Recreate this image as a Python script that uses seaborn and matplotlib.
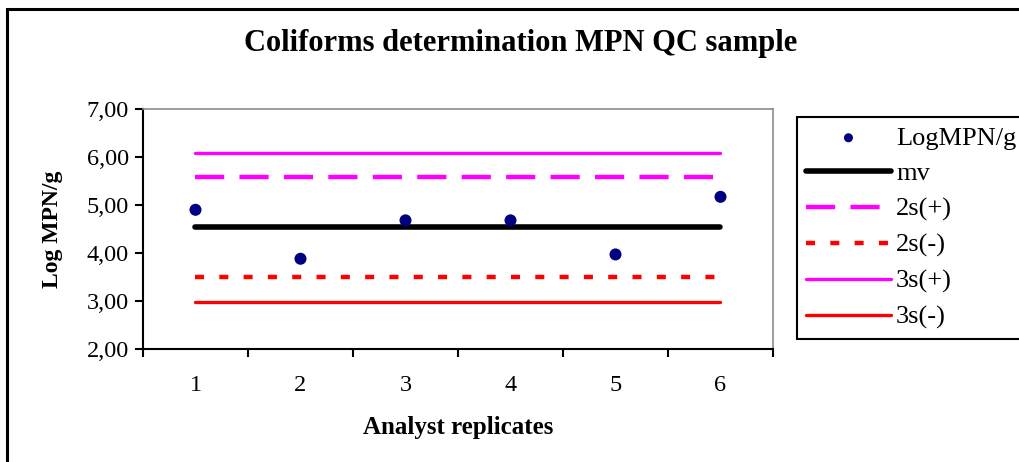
import numpy as np
import pandas as pd
import matplotlib
matplotlib.use("Agg")
import matplotlib.pyplot as plt
from matplotlib.patches import Rectangle
from matplotlib.ticker import FixedLocator, NullFormatter
import seaborn as sns

# Replicate results (log MPN/g) and control limits
replicates = [1, 2, 3, 4, 5, 6]
log_mpn = [4.90, 3.88, 4.68, 4.68, 3.97, 5.17]
mean_value = 4.54
limit_2s_plus = 5.58
limit_2s_minus = 3.50
limit_3s_plus = 6.09
limit_3s_minus = 2.97
y_ticks = [2, 3, 4, 5, 6, 7]
y_tick_labels = ["2,00", "3,00", "4,00", "5,00", "6,00", "7,00"]

sns.set_style("ticks")
plt.rcParams["font.family"] = ["Liberation Serif", "DejaVu Serif"]
plt.rcParams["lines.scale_dashes"] = False
for key in ["text.color", "axes.labelcolor", "xtick.color", "ytick.color"]:
    plt.rcParams[key] = "black"

W, H = 1020, 462
fig = plt.figure(figsize=(W / 100, H / 100), dpi=100)

def px_box(left, top, right, bottom):
    return [left / W, 1 - bottom / H, (right - left) / W, (bottom - top) / H]

ax = fig.add_axes(px_box(143, 109, 773, 349))

points = pd.DataFrame({"replicate": replicates, "value": log_mpn})

limits = [
    ("mv", mean_value, dict(color="black", linewidth=4.0, solid_capstyle="round")),
    ("2s(+)", limit_2s_plus, dict(color="#FF00FF", linewidth=3.2, linestyle=(0, (21, 11)), dash_capstyle="butt")),
    ("2s(-)", limit_2s_minus, dict(color="#FF0000", linewidth=3.2, linestyle=(0, (6.5, 11)), dash_capstyle="butt")),
    ("3s(+)", limit_3s_plus, dict(color="#FF00FF", linewidth=2.4, solid_capstyle="round")),
    ("3s(-)", limit_3s_minus, dict(color="#FF0000", linewidth=2.4, solid_capstyle="round")),
]

sns.scatterplot(data=points, x="replicate", y="value", ax=ax, color="#000080",
                s=75, edgecolor="none", label="LogMPN/g", zorder=5)

for name, level, style in limits:
    line_df = pd.DataFrame({"replicate": replicates, "value": np.full(len(replicates), level)})
    sns.lineplot(data=line_df, x="replicate", y="value", ax=ax, label=name, **style)

ax.set_xlim(0.5, 6.5)
ax.set_ylim(2, 7)

# Category boundaries carry the tick marks, centers carry the labels
ax.xaxis.set_major_locator(FixedLocator(np.arange(0.5, 7, 1.0)))
ax.xaxis.set_major_formatter(NullFormatter())
ax.xaxis.set_minor_locator(FixedLocator(replicates))
ax.set_xticklabels([str(r) for r in replicates], minor=True)
ax.tick_params(axis="x", which="major", length=6, width=1.5, direction="out", color="black")
ax.tick_params(axis="x", which="minor", length=0, pad=19, labelsize=17.5)

ax.set_yticks(y_ticks)
ax.set_yticklabels(y_tick_labels)
ax.tick_params(axis="y", length=6, width=1.5, direction="out", color="black", labelsize=17.5, pad=4)

for side in ["left", "bottom"]:
    ax.spines[side].set_color("black")
    ax.spines[side].set_linewidth(1.5)
for side in ["top", "right"]:
    ax.spines[side].set_visible(True)
    ax.spines[side].set_color("#8c8c8c")
    ax.spines[side].set_linewidth(1.2)

ax.set_xlabel("Analyst replicates", fontsize=18, fontweight="bold", labelpad=14)
ax.set_ylabel("Log MPN/g", fontsize=17, fontweight="bold", labelpad=17)

fig.text(521 / W, 1 - 44 / H, "Coliforms determination MPN QC sample",
         ha="center", va="center", fontsize=22, fontweight="bold")

leg = ax.legend(loc="upper left", bbox_to_anchor=(797 / W, 1 - 117 / H),
                bbox_transform=fig.transFigure, fontsize=19, frameon=True,
                fancybox=False, borderaxespad=0, handlelength=3.2,
                handletextpad=0.2, labelspacing=0.46, borderpad=0.35,
                markerscale=0.75)
leg.get_frame().set_edgecolor("black")
leg.get_frame().set_linewidth(1.5)
leg.get_frame().set_facecolor("white")
leg.get_frame().set_alpha(1)

# Outer chart border, running past the right and bottom edges
fig.patches.append(Rectangle((7 / W, -0.1), 1.2, 1 - 9 / H + 0.1,
                             transform=fig.transFigure, fill=False,
                             edgecolor="black", linewidth=2.2))

fig.savefig("out.png", dpi=100)
